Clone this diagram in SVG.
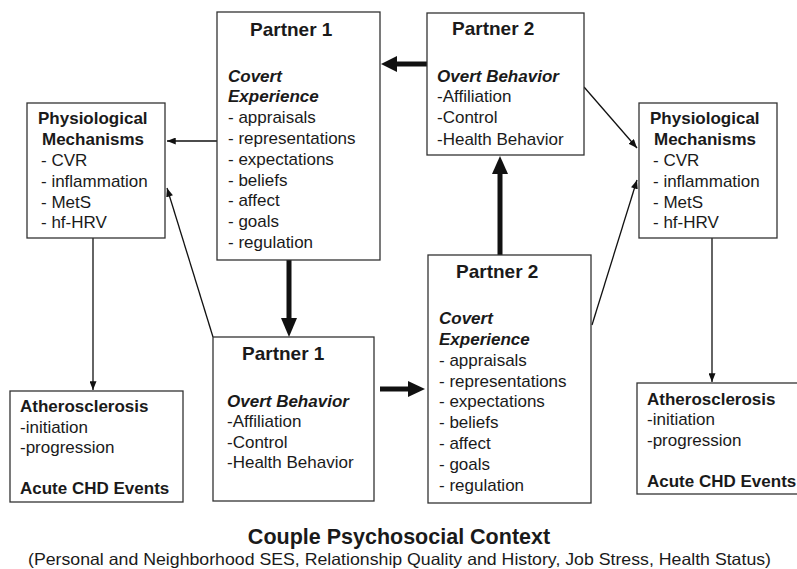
<svg xmlns="http://www.w3.org/2000/svg" width="797" height="569" viewBox="0 0 797 569">
<defs>
<style>
text{font-family:"Liberation Sans",Arial,sans-serif;fill:#1a1a1a;font-size:17px}
.b{font-weight:bold}
.h{font-weight:bold;font-size:19px}
.bi{font-weight:bold;font-style:italic}
rect{fill:#fff;stroke:#333;stroke-width:1.3}
.thin{stroke:#111;stroke-width:1.3;fill:none}
.thick{stroke:#111;stroke-width:5;fill:none}
</style>
<marker id="ah" viewBox="0 0 10 8" refX="10" refY="4" markerWidth="9" markerHeight="7" markerUnits="userSpaceOnUse" orient="auto"><path d="M0,0L10,4L0,8Z" fill="#111"/></marker>
</defs>
<rect x="0" y="0" width="797" height="569" style="fill:#fff;stroke:none"/>
<g id="connectors">
<line class="thin" x1="217" y1="141" x2="167" y2="141" marker-end="url(#ah)"/>
<line class="thin" x1="213" y1="337" x2="167" y2="188" marker-end="url(#ah)"/>
<line class="thin" x1="93" y1="238" x2="93" y2="390" marker-end="url(#ah)"/>
<line class="thin" x1="712" y1="238" x2="712" y2="382" marker-end="url(#ah)"/>
<line class="thin" x1="584" y1="87" x2="637" y2="148" marker-end="url(#ah)"/>
<line class="thin" x1="592" y1="325" x2="637" y2="180" marker-end="url(#ah)"/>
<line class="thick" x1="427" y1="64" x2="395" y2="64"/>
<path d="M381,64L397,56L397,72Z" fill="#111"/>
<line class="thick" x1="289" y1="260" x2="289" y2="320"/>
<path d="M289,337L281,318L297,318Z" fill="#111"/>
<line class="thick" x1="380" y1="389" x2="410" y2="389"/>
<path d="M425,389L408,381L408,397Z" fill="#111"/>
<line class="thick" x1="500" y1="255" x2="500" y2="172"/>
<path d="M500,156L492,174L508,174Z" fill="#111"/>
</g>
<g id="phys-left">
<rect x="27" y="103" width="138" height="135"/>
<text class="b" x="38" y="124">Physiological</text>
<text class="b" x="42" y="145">Mechanisms</text>
<text x="41" y="166">- CVR</text>
<text x="41" y="187">- inflammation</text>
<text x="41" y="208">- MetS</text>
<text x="41" y="228">- hf-HRV</text>
</g>
<g id="p1-covert">
<rect x="217" y="12" width="163" height="248"/>
<text class="h" x="250" y="36">Partner 1</text>
<text class="bi" x="228" y="82">Covert</text>
<text class="bi" x="228" y="102">Experience</text>
<text x="228" y="123">- appraisals</text>
<text x="228" y="144">- representations</text>
<text x="228" y="165">- expectations</text>
<text x="228" y="186">- beliefs</text>
<text x="228" y="206">- affect</text>
<text x="228" y="227">- goals</text>
<text x="228" y="248">- regulation</text>
</g>
<g id="p2-overt">
<rect x="427" y="13" width="157" height="142"/>
<text class="h" x="452" y="35">Partner 2</text>
<text class="bi" x="437" y="82">Overt Behavior</text>
<text x="437" y="102">-Affiliation</text>
<text x="437" y="123">-Control</text>
<text x="437" y="145">-Health Behavior</text>
</g>
<g id="phys-right">
<rect x="639" y="103" width="138" height="135"/>
<text class="b" x="650" y="124">Physiological</text>
<text class="b" x="654" y="145">Mechanisms</text>
<text x="653" y="166">- CVR</text>
<text x="653" y="187">- inflammation</text>
<text x="653" y="208">- MetS</text>
<text x="653" y="228">- hf-HRV</text>
</g>
<g id="ather-left">
<rect x="10" y="391" width="173" height="111"/>
<text class="b" x="20" y="412">Atherosclerosis</text>
<text x="20" y="433">-initiation</text>
<text x="20" y="453">-progression</text>
<text class="b" x="20" y="494">Acute CHD Events</text>
</g>
<g id="p1-overt">
<rect x="213" y="337" width="161" height="164"/>
<text class="h" x="242" y="360">Partner 1</text>
<text class="bi" x="227" y="407">Overt Behavior</text>
<text x="227" y="427">-Affiliation</text>
<text x="227" y="448">-Control</text>
<text x="227" y="468">-Health Behavior</text>
</g>
<g id="p2-covert">
<rect x="428" y="255" width="163" height="248"/>
<text class="h" x="456" y="278">Partner 2</text>
<text class="bi" x="439" y="324">Covert</text>
<text class="bi" x="439" y="345">Experience</text>
<text x="439" y="366">- appraisals</text>
<text x="439" y="387">- representations</text>
<text x="439" y="407">- expectations</text>
<text x="439" y="428">- beliefs</text>
<text x="439" y="449">- affect</text>
<text x="439" y="470">- goals</text>
<text x="439" y="491">- regulation</text>
</g>
<g id="ather-right">
<rect x="637" y="383" width="170" height="111"/>
<text class="b" x="647" y="405">Atherosclerosis</text>
<text x="647" y="425">-initiation</text>
<text x="647" y="446">-progression</text>
<text class="b" x="647" y="487">Acute CHD Events</text>
</g>
<g id="caption">
<text class="b" x="399" y="544" text-anchor="middle" style="font-size:21.5px">Couple Psychosocial Context</text>
<text x="28" y="565" textLength="743" lengthAdjust="spacingAndGlyphs" style="font-size:16.5px">(Personal and Neighborhood SES, Relationship Quality and History, Job Stress, Health Status)</text>
</g>
</svg>
